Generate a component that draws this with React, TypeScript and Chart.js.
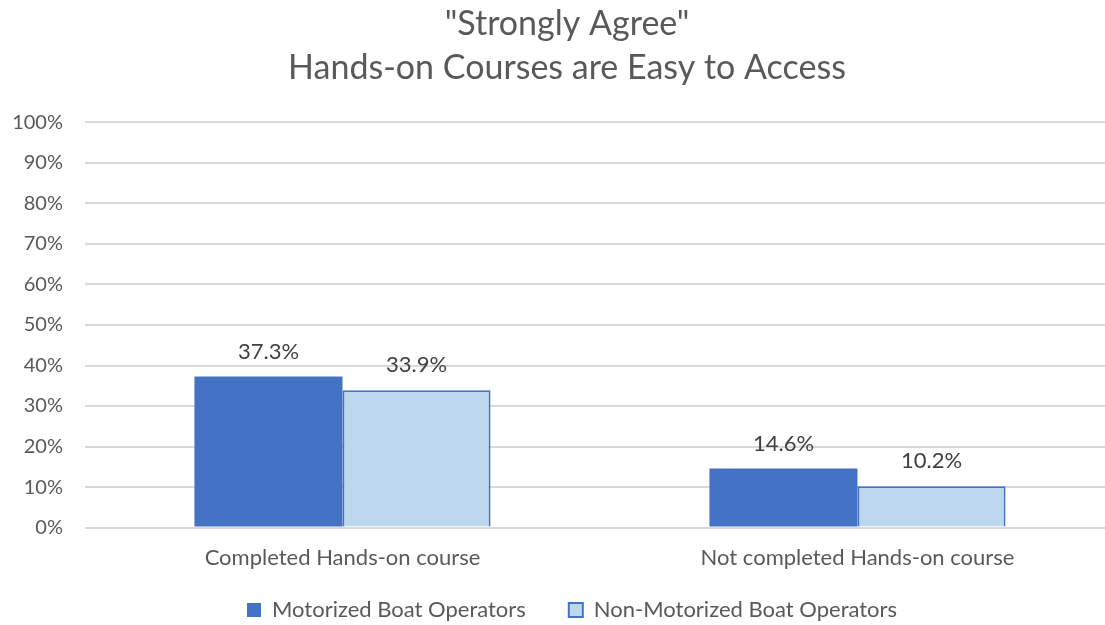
import React, { useEffect, useRef } from "react";
import { Chart, registerables } from "chart.js";

Chart.register(...registerables);

const titleLines = ['"Strongly Agree"', "Hands-on Courses are Easy to Access"];
const categories = ["Completed Hands-on course", "Not completed Hands-on course"];
const seriesNames = ["Motorized Boat Operators", "Non-Motorized Boat Operators"];
const motorized = [37.3, 14.6];
const nonMotorized = [33.9, 10.2];
const yTicks = [0, 10, 20, 30, 40, 50, 60, 70, 80, 90, 100];

const FONT = "Lato, 'Open Sans', sans-serif";

const valueLabels = {
  id: "valueLabels",
  afterDatasetsDraw(chart: any) {
    const ctx = chart.ctx;
    ctx.save();
    ctx.font = `22px ${FONT}`;
    ctx.fillStyle = "#404040";
    ctx.textAlign = "center";
    ctx.textBaseline = "middle";
    chart.data.datasets.forEach((ds: any, i: number) => {
      const meta = chart.getDatasetMeta(i);
      meta.data.forEach((bar: any, j: number) => {
        ctx.fillText(ds.data[j].toFixed(1) + "%", bar.x, bar.y - 25);
      });
    });
    ctx.restore();
  },
};

// Reserve a compact legend slot, then let the legend box reach upward so
// its wide horizontal item padding does not push the plot up.
const legendFit = {
  id: "legendFit",
  afterInit(chart: any) {
    const lg = chart.legend;
    if (!lg || lg.__patched) return;
    const orig = lg.fit.bind(lg);
    lg.fit = function () {
      orig();
      this.height = 33;
    };
    lg.__patched = true;
  },
  afterLayout(chart: any) {
    const lg = chart.legend;
    if (!lg) return;
    lg.top = lg.bottom - 65;
    lg.height = 65;
    lg.left += 5;
    lg.right += 5;
  },
};

export default function App() {
  const ref = useRef<HTMLCanvasElement | null>(null);
  useEffect(() => {
    if (!ref.current) return;
    const chart = new Chart(ref.current, {
      type: "bar",
      data: {
        labels: categories,
        datasets: [
          {
            label: seriesNames[0],
            data: motorized,
            backgroundColor: "#4472C4",
            borderColor: "#4472C4",
            borderWidth: 0,
          },
          {
            label: seriesNames[1],
            data: nonMotorized,
            backgroundColor: "#BDD7EE",
            borderColor: "#4472C4",
            borderWidth: 2,
          },
        ],
      },
      options: {
        responsive: false,
        animation: false,
        layout: { padding: { left: 0, right: 0, top: 0, bottom: 4 } },
        categoryPercentage: 0.575,
        barPercentage: 1,
        scales: {
          x: {
            grid: { display: false, drawTicks: false },
            border: { display: false },
            ticks: { color: "#595959", font: { family: FONT, size: 22 }, padding: 17 },
          },
          y: {
            min: 0,
            max: 100,
            afterFit: (s: any) => { s.width = 85; },
            afterBuildTicks: (s: any) => { s.ticks = yTicks.map((v) => ({ value: v })); },
            grid: { color: "#D9D9D9", lineWidth: 2, drawTicks: false },
            border: { display: false },
            ticks: {
              color: "#595959",
              font: { family: FONT, size: 20 },
              padding: 22,
              callback: (v: any) => v + "%",
            },
          },
          yRight: {
            position: "right",
            display: true,
            afterFit: (s: any) => { s.width = 19; },
            grid: { display: false, drawTicks: false },
            border: { display: false },
            ticks: { display: false },
          },
        },
        plugins: {
          title: {
            display: true,
            text: titleLines,
            color: "#595959",
            font: { family: FONT, size: 34, weight: "normal", lineHeight: 1.3 },
            padding: { top: 2, bottom: 32 },
          },
          legend: {
            position: "bottom",
            labels: {
              color: "#595959",
              font: { family: FONT, size: 22 },
              boxWidth: 14,
              boxHeight: 14,
              padding: 43,
            },
          },
          tooltip: { enabled: false },
        },
      },
      plugins: [valueLabels, legendFit],
    });
    return () => chart.destroy();
  }, []);
  return (
    <div style={{ position: "fixed", left: 0, top: 0, width: 1105, height: 625, overflow: "hidden", background: "#fff" }}>
      <canvas ref={ref} width={1134} height={625} style={{ display: "block" }} />
    </div>
  );
}
